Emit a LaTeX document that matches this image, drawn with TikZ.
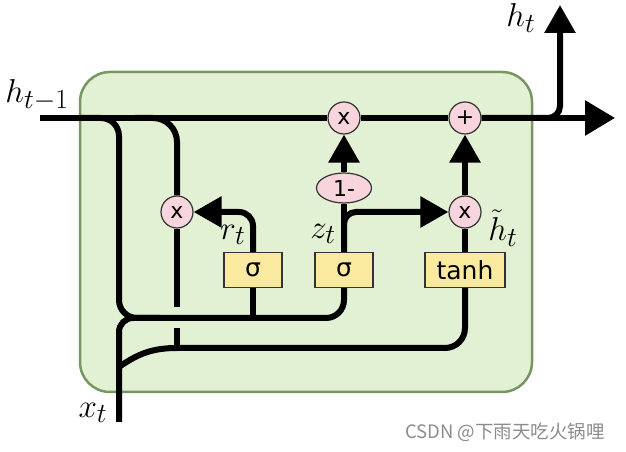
\documentclass[tikz,border=0pt]{standalone}
\usepackage{fontspec}
\newfontfamily\dejavu{DejaVu Sans}
\newfontfamily\cjk{Noto Sans CJK SC}
\usetikzlibrary{arrows.meta,shapes.geometric}
\definecolor{cellgreen}{RGB}{226,241,212}
\definecolor{cellborder}{RGB}{120,150,98}
\definecolor{oppink}{RGB}{248,212,220}
\definecolor{gateyellow}{RGB}{250,234,160}
\newcommand{\mathlbl}[1]{\scalebox{1.33}{\Huge$#1$}}

\begin{document}
\begin{tikzpicture}[x=1pt, y=1pt,
    op/.style={circle, draw=black!80, line width=1.2pt, fill=oppink, minimum size=32pt, inner sep=0pt, font=\dejavu\fontsize{22}{22}\selectfont},
    gate/.style={rectangle, draw=black!80, line width=1.2pt, fill=gateyellow, minimum width=#1, minimum height=35pt, inner sep=0pt, font=\dejavu\fontsize{25}{25}\selectfont},
    wire/.style={line width=6pt, black},
    lbl/.style={inner sep=0pt},
    >={Triangle[length=28pt, width=30pt]}
]
    \useasboundingbox (0,0) rectangle (626,452);

    % Cellule GRU
    \draw[cellborder, line width=2.5pt, fill=cellgreen, rounded corners=30pt] (80,60) rectangle (532,380);

    % Opérations et portes
    \node[op] (mulz) at (344,334) {x};
    \node[op] (add) at (465,334) {+};
    \node[op] (mulr) at (177,240) {x};
    \node[op] (mulh) at (465,240) {x};
    \node[ellipse, draw=black!80, line width=1.2pt, fill=oppink, minimum width=55pt, minimum height=30pt, inner sep=0pt, font=\dejavu\fontsize{22}{22}\selectfont] (oneminus) at (344,264) {1-};
    \node[gate=58pt] (sigr) at (253,182) {σ};
    \node[gate=58pt] (sigz) at (344,182) {σ};
    \node[gate=80pt] (tanh) at (465,182) {tanh};

    % Points libres
    \coordinate (hin) at (40,334);
    \coordinate (hright) at (615,334);
    \coordinate (htop) at (560,447);
    \coordinate (xin) at (119,30);
    \coordinate (split1) at (80,334);
    \coordinate (split2) at (135,334);
    \coordinate (bus1west) at (119,134);
    \coordinate (bus1mid) at (160,134);
    \coordinate (xsplit) at (119,85);
    \coordinate (rjoin) at (177,104);

    % Etiquettes
    \node[lbl] (hprev) at (37,357) {\mathlbl{h_{t-1}}};
    \node[lbl] (hnext) at (521,434) {\mathlbl{h_t}};
    \node[lbl] (xlbl) at (93,39) {\mathlbl{x_t}};
    \node[lbl] (rlbl) at (233,217) {\mathlbl{r_t}};
    \node[lbl] (zlbl) at (323,218) {\mathlbl{z_t}};
    \node[lbl] (hcand) at (503,224) {\mathlbl{\tilde{h}_t}};
    \node[font=\cjk\fontsize{18.5}{18.5}\selectfont, text=black!45] (mark) at (505,20) {CSDN @下雨天吃火锅哩};

    % Connexions
    \draw[wire] (hin) -- (mulz) -- (add);
    \draw[wire, -{Triangle[length=30pt, width=34pt]}] (add) -- (hright);
    \draw[wire, ->, rounded corners=12pt] (add) -| (htop);
    \draw[wire, rounded corners=24pt] (split2) -| (mulr.north);
    \draw[wire] (mulr.south) -- (rjoin);
    \fill[cellgreen] (169,124) rectangle (185,145);
    \draw[wire, rounded corners=18pt] (split1) -| (bus1west) -| (sigz.south);
    \draw[wire, rounded corners=14pt] (xin) |- (bus1mid);
    \draw[wire] (sigr.south) -- (sigr.south |- bus1west);
    \draw[wire] (xsplit) to[out=35, in=180] (rjoin);
    \draw[wire, rounded corners=20pt] (rjoin) -| (tanh.south);
    \draw[wire, ->, rounded corners=14pt] (sigr.north) |- (mulr.east);
    \draw[wire] (sigz.north) -- (oneminus.south);
    \draw[wire, ->, rounded corners=12pt] (sigz.north) |- (mulh.west);
    \draw[wire, ->] (oneminus) -- (mulz);
    \draw[wire] (tanh.north) -- (mulh.south);
    \draw[wire, ->] (mulh) -- (add);

\end{tikzpicture}
\end{document}
